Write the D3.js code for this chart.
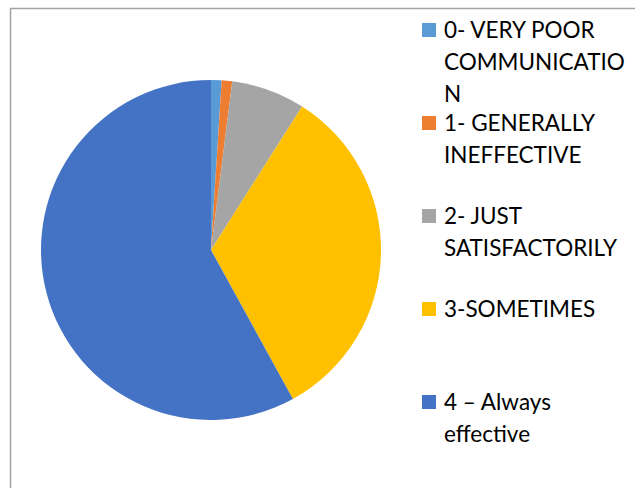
<!DOCTYPE html>
<html>
<head>
<meta charset="utf-8">
<script src="https://cdn.jsdelivr.net/npm/d3@7"></script>
<style>
  body { margin: 0; background: #fff; }
  svg { display: block; }
</style>
</head>
<body>
<svg id="chart" width="635" height="488"></svg>
<script>
// answers (percent of responses)
let categories = ["0- VERY POOR COMMUNICATION", "1- GENERALLY INEFFECTIVE", "2- JUST SATISFACTORILY", "3-SOMETIMES", "4 – Always effective"];
let values = [1, 1, 7, 33, 58];
// legend text as it wraps in the picture
let legendLines = [
  ["0- VERY POOR", "COMMUNICATIO", "N"],
  ["1- GENERALLY", "INEFFECTIVE"],
  ["2- JUST", "SATISFACTORILY"],
  ["3-SOMETIMES"],
  ["4 – Always", "effective"]
];
let colors = ["#5b9bd5", "#ed7d31", "#a5a5a5", "#ffc000", "#4472c4"];

let svg = d3.select("#chart");
let cx = 211, cy = 250, radius = 170;

// frame of the chart area (runs off the page right and bottom)
svg.append("rect")
  .attr("x", 10.5).attr("y", 8.5)
  .attr("width", 700).attr("height", 600)
  .attr("fill", "none")
  .attr("stroke", "#a3a3a3")
  .attr("stroke-width", 1.5);

let pie = d3.pie().sort(null).value(d => d);
let arc = d3.arc().innerRadius(0).outerRadius(radius);

svg.append("g")
  .attr("transform", `translate(${cx},${cy})`)
  .selectAll("path")
  .data(pie(values))
  .join("path")
  .attr("d", arc)
  .attr("fill", (d, i) => colors[i]);

// legend
let legendY = d3.scalePoint().domain(d3.range(categories.length)).range([30, 402]);
let lineHeight = 32;

let items = svg.append("g")
  .selectAll("g")
  .data(categories)
  .join("g")
  .attr("transform", (d, i) => `translate(422,${legendY(i)})`);

items.append("rect")
  .attr("x", 0).attr("y", -7)
  .attr("width", 14).attr("height", 14)
  .attr("fill", (d, i) => colors[i]);

items.append("text")
  .attr("x", 22)
  .attr("font-family", "Lato, 'Open Sans', sans-serif")
  .attr("font-size", 22.5)
  .attr("fill", "#000")
  .selectAll("tspan")
  .data((d, i) => legendLines[i])
  .join("tspan")
  .attr("x", 22)
  .attr("y", (d, j) => j * lineHeight)
  .attr("dy", "0.35em")
  .text(d => d);
</script>
</body>
</html>
